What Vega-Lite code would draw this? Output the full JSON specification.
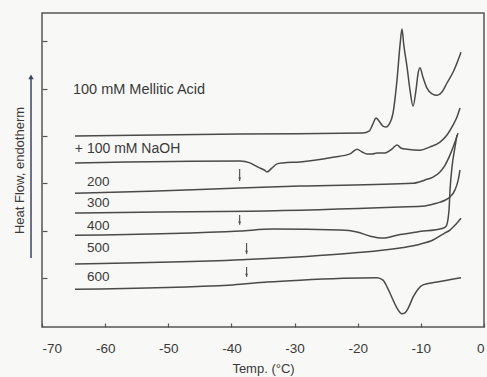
{
  "$schema": "https://vega.github.io/schema/vega-lite/v6.json",
  "width": 442,
  "height": 314,
  "autosize": {"type": "none"},
  "padding": {"left": 42, "top": 13, "right": 3, "bottom": 50},
  "background": "#f8f8f6",
  "config": {
    "font": "Liberation Sans",
    "view": {"stroke": "#555555", "strokeWidth": 1.5},
    "axis": {"domain": false, "grid": false, "labelColor": "#3a3a3a", "titleColor": "#3a3a3a", "tickColor": "#555555", "tickWidth": 1.2, "labelFont": "Liberation Sans", "titleFont": "Liberation Sans", "titleFontWeight": "normal"}
  },
  "datasets": {
    "curves": [
      {"series": "MA", "t": -64.77, "hf": 3.00},
      {"series": "MA", "t": -38.64, "hf": 3.04},
      {"series": "MA", "t": -19.16, "hf": 3.06},
      {"series": "MA", "t": -18.2, "hf": 3.10},
      {"series": "MA", "t": -17.6, "hf": 3.25},
      {"series": "MA", "t": -17.1, "hf": 3.38},
      {"series": "MA", "t": -16.6, "hf": 3.31},
      {"series": "MA", "t": -16.0, "hf": 3.21},
      {"series": "MA", "t": -15.5, "hf": 3.19},
      {"series": "MA", "t": -15.0, "hf": 3.25},
      {"series": "MA", "t": -14.41, "hf": 3.48},
      {"series": "MA", "t": -13.78, "hf": 4.18},
      {"series": "MA", "t": -13.3, "hf": 4.92},
      {"series": "MA", "t": -12.99, "hf": 5.26},
      {"series": "MA", "t": -12.7, "hf": 4.92},
      {"series": "MA", "t": -12.19, "hf": 4.46},
      {"series": "MA", "t": -11.72, "hf": 3.97},
      {"series": "MA", "t": -11.24, "hf": 3.63},
      {"series": "MA", "t": -10.77, "hf": 3.97},
      {"series": "MA", "t": -10.45, "hf": 4.31},
      {"series": "MA", "t": -10.14, "hf": 4.44},
      {"series": "MA", "t": -9.66, "hf": 4.24},
      {"series": "MA", "t": -9.03, "hf": 4.01},
      {"series": "MA", "t": -8.24, "hf": 3.89},
      {"series": "MA", "t": -7.44, "hf": 3.86},
      {"series": "MA", "t": -6.65, "hf": 3.93},
      {"series": "MA", "t": -5.86, "hf": 4.12},
      {"series": "MA", "t": -4.75, "hf": 4.39},
      {"series": "MA", "t": -3.64, "hf": 4.77},

      {"series": "NaOH", "t": -64.77, "hf": 2.43},
      {"series": "NaOH", "t": -38.64, "hf": 2.47},
      {"series": "NaOH", "t": -37.06, "hf": 2.43},
      {"series": "NaOH", "t": -35.79, "hf": 2.34},
      {"series": "NaOH", "t": -34.8, "hf": 2.28},
      {"series": "NaOH", "t": -34.37, "hf": 2.24},
      {"series": "NaOH", "t": -33.6, "hf": 2.32},
      {"series": "NaOH", "t": -32.78, "hf": 2.41},
      {"series": "NaOH", "t": -31.83, "hf": 2.43},
      {"series": "NaOH", "t": -29.14, "hf": 2.45},
      {"series": "NaOH", "t": -23.91, "hf": 2.55},
      {"series": "NaOH", "t": -21.22, "hf": 2.62},
      {"series": "NaOH", "t": -20.11, "hf": 2.72},
      {"series": "NaOH", "t": -19.3, "hf": 2.66},
      {"series": "NaOH", "t": -18.53, "hf": 2.62},
      {"series": "NaOH", "t": -17.7, "hf": 2.62},
      {"series": "NaOH", "t": -16.95, "hf": 2.64},
      {"series": "NaOH", "t": -15.7, "hf": 2.64},
      {"series": "NaOH", "t": -14.6, "hf": 2.72},
      {"series": "NaOH", "t": -13.78, "hf": 2.81},
      {"series": "NaOH", "t": -13.1, "hf": 2.74},
      {"series": "NaOH", "t": -12.19, "hf": 2.72},
      {"series": "NaOH", "t": -10.14, "hf": 2.70},
      {"series": "NaOH", "t": -8.55, "hf": 2.77},
      {"series": "NaOH", "t": -6.97, "hf": 2.87},
      {"series": "NaOH", "t": -5.86, "hf": 3.02},
      {"series": "NaOH", "t": -4.91, "hf": 3.23},
      {"series": "NaOH", "t": -4.28, "hf": 3.40},
      {"series": "NaOH", "t": -3.80, "hf": 3.59},

      {"series": "200", "t": -64.77, "hf": 1.79},
      {"series": "200", "t": -52.9, "hf": 1.83},
      {"series": "200", "t": -38.64, "hf": 1.90},
      {"series": "200", "t": -29.14, "hf": 1.94},
      {"series": "200", "t": -11.24, "hf": 2.00},
      {"series": "200", "t": -9.34, "hf": 2.07},
      {"series": "200", "t": -8.08, "hf": 2.13},
      {"series": "200", "t": -6.97, "hf": 2.24},
      {"series": "200", "t": -6.18, "hf": 2.38},
      {"series": "200", "t": -5.38, "hf": 2.60},
      {"series": "200", "t": -4.59, "hf": 2.87},
      {"series": "200", "t": -4.12, "hf": 3.06},

      {"series": "300", "t": -64.77, "hf": 1.37},
      {"series": "300", "t": -51.3, "hf": 1.39},
      {"series": "300", "t": -37.06, "hf": 1.41},
      {"series": "300", "t": -13.3, "hf": 1.50},
      {"series": "300", "t": -9.34, "hf": 1.52},
      {"series": "300", "t": -7.44, "hf": 1.58},
      {"series": "300", "t": -6.18, "hf": 1.64},
      {"series": "300", "t": -5.38, "hf": 1.71},
      {"series": "300", "t": -4.59, "hf": 1.86},
      {"series": "300", "t": -4.12, "hf": 2.05},
      {"series": "300", "t": -3.80, "hf": 2.28},

      {"series": "400", "t": -64.77, "hf": 0.90},
      {"series": "400", "t": -38.64, "hf": 0.99},
      {"series": "400", "t": -33.42, "hf": 1.03},
      {"series": "400", "t": -22.81, "hf": 1.01},
      {"series": "400", "t": -20.11, "hf": 0.97},
      {"series": "400", "t": -18.0, "hf": 0.88},
      {"series": "400", "t": -16.0, "hf": 0.84},
      {"series": "400", "t": -13.78, "hf": 0.90},
      {"series": "400", "t": -10.61, "hf": 0.97},
      {"series": "400", "t": -6.49, "hf": 1.05},
      {"series": "400", "t": -6.0, "hf": 1.09},
      {"series": "400", "t": -5.54, "hf": 1.43},
      {"series": "400", "t": -5.38, "hf": 1.86},
      {"series": "400", "t": -5.07, "hf": 2.34},
      {"series": "400", "t": -4.59, "hf": 2.77},
      {"series": "400", "t": -4.28, "hf": 3.02},

      {"series": "500", "t": -64.77, "hf": 0.29},
      {"series": "500", "t": -38.64, "hf": 0.38},
      {"series": "500", "t": -21.22, "hf": 0.52},
      {"series": "500", "t": -13.3, "hf": 0.63},
      {"series": "500", "t": -10.14, "hf": 0.71},
      {"series": "500", "t": -8.08, "hf": 0.80},
      {"series": "500", "t": -6.18, "hf": 0.95},
      {"series": "500", "t": -5.38, "hf": 1.01},
      {"series": "500", "t": -4.4, "hf": 1.14},
      {"series": "500", "t": -3.64, "hf": 1.26},

      {"series": "600", "t": -64.77, "hf": -0.24},
      {"series": "600", "t": -39.8, "hf": -0.15},
      {"series": "600", "t": -34.37, "hf": -0.09},
      {"series": "600", "t": -29.14, "hf": -0.05},
      {"series": "600", "t": -16.95, "hf": 0.00},
      {"series": "600", "t": -16.0, "hf": -0.05},
      {"series": "600", "t": -15.36, "hf": -0.19},
      {"series": "600", "t": -14.6, "hf": -0.41},
      {"series": "600", "t": -13.78, "hf": -0.64},
      {"series": "600", "t": -12.99, "hf": -0.76},
      {"series": "600", "t": -12.51, "hf": -0.74},
      {"series": "600", "t": -12.0, "hf": -0.64},
      {"series": "600", "t": -11.24, "hf": -0.41},
      {"series": "600", "t": -10.45, "hf": -0.24},
      {"series": "600", "t": -9.66, "hf": -0.15},
      {"series": "600", "t": -7.44, "hf": -0.09},
      {"series": "600", "t": -3.64, "hf": 0.00}
    ],
    "labels": [
      {"t": -65.1, "hf": 3.97, "text": "100 mM Mellitic Acid", "size": 14.5},
      {"t": -64.8, "hf": 2.72, "text": "+ 100 mM NaOH", "size": 14},
      {"t": -62.87, "hf": 2.02, "text": "200", "size": 13.5},
      {"t": -62.87, "hf": 1.58, "text": "300", "size": 13.5},
      {"t": -62.87, "hf": 1.09, "text": "400", "size": 13.5},
      {"t": -62.87, "hf": 0.63, "text": "500", "size": 13.5},
      {"t": -62.87, "hf": 0.02, "text": "600", "size": 13.5}
    ],
    "arrows": [
      {"t": -38.7, "top": 2.30, "bottom": 2.05},
      {"t": -38.7, "top": 1.33, "bottom": 1.12},
      {"t": -37.6, "top": 0.735, "bottom": 0.50},
      {"t": -37.6, "top": 0.228, "bottom": 0.017}
    ],
    "yarrow": [
      {"t": -71.74, "lo": 0.42, "hi": 4.25}
    ]
  },
  "layer": [
    {
      "data": {"name": "curves"},
      "mark": {"type": "line", "color": "#4a4a4a", "strokeWidth": 1.5, "interpolate": "monotone"},
      "encoding": {
        "x": {
          "field": "t", "type": "quantitative",
          "scale": {"domain": [-70, 0], "nice": false},
          "axis": {"values": [-70, -60, -50, -40, -30, -20, -10, 0], "labelExpr": "'' + datum.value", "offset": -4, "tickSize": 4, "labelPadding": 14, "labelFontSize": 13.5, "title": "Temp. (°C)", "titleFontSize": 13, "titlePadding": 8}
        },
        "y": {
          "field": "hf", "type": "quantitative",
          "scale": {"domain": [-1.04, 5.6], "nice": false, "zero": false},
          "axis": {"values": [0, 1, 2, 3, 4, 5], "offset": -5, "tickSize": 5, "labels": false, "title": "Heat Flow, endotherm", "titleFontSize": 13, "titlePadding": 15}
        },
        "detail": {"field": "series"}
      }
    },
    {
      "data": {"name": "labels"},
      "mark": {"type": "text", "align": "left", "baseline": "middle", "color": "#3a3a3a", "font": "Liberation Sans"},
      "encoding": {
        "x": {"field": "t", "type": "quantitative"},
        "y": {"field": "hf", "type": "quantitative"},
        "text": {"field": "text"},
        "size": {"field": "size", "type": "quantitative", "scale": null}
      }
    },
    {
      "data": {"name": "arrows"},
      "mark": {"type": "rule", "color": "#555555", "strokeWidth": 1.2},
      "encoding": {
        "x": {"field": "t", "type": "quantitative"},
        "y": {"field": "top", "type": "quantitative"},
        "y2": {"field": "bottom"}
      }
    },
    {
      "data": {"name": "arrows"},
      "mark": {"type": "point", "shape": "triangle-down", "filled": true, "size": 10, "color": "#555555", "opacity": 1, "yOffset": -2},
      "encoding": {
        "x": {"field": "t", "type": "quantitative"},
        "y": {"field": "bottom", "type": "quantitative"}
      }
    },
    {
      "data": {"name": "yarrow"},
      "mark": {"type": "rule", "color": "#3e4660", "strokeWidth": 1.5},
      "encoding": {
        "x": {"field": "t", "type": "quantitative"},
        "y": {"field": "lo", "type": "quantitative"},
        "y2": {"field": "hi"}
      }
    },
    {
      "data": {"name": "yarrow"},
      "mark": {"type": "point", "shape": "triangle-up", "filled": true, "size": 30, "color": "#3e4660", "opacity": 1},
      "encoding": {
        "x": {"field": "t", "type": "quantitative"},
        "y": {"field": "hi", "type": "quantitative"}
      }
    }
  ]
}
